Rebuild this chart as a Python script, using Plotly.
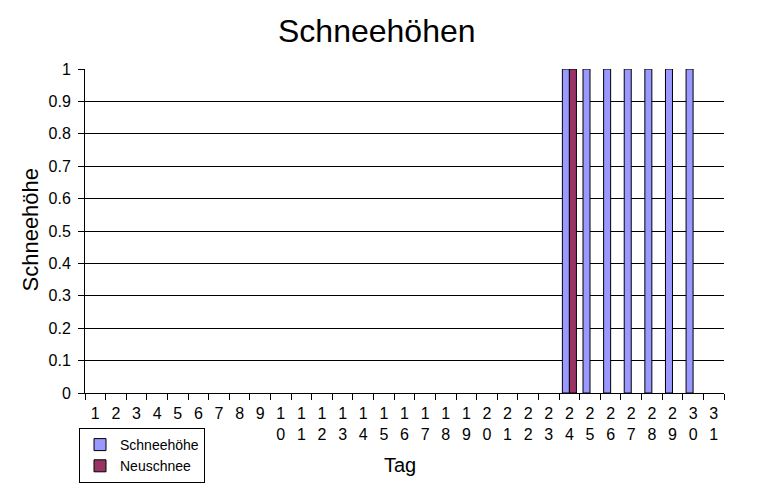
import plotly.graph_objects as go

tage = [str(d) for d in range(1, 32)]
tick_labels = ["1", "2", "3", "4", "5", "6", "7", "8", "9",
               "1<br>0", "1<br>1", "1<br>2", "1<br>3", "1<br>4", "1<br>5", "1<br>6", "1<br>7", "1<br>8", "1<br>9",
               "2<br>0", "2<br>1", "2<br>2", "2<br>3", "2<br>4", "2<br>5", "2<br>6", "2<br>7", "2<br>8", "2<br>9",
               "3<br>0", "3<br>1"]
schneehoehe = [None, None, None, None, None, None, None, None, None, None,
               None, None, None, None, None, None, None, None, None, None,
               None, None, None, 1, 1, 1, 1, 1, 1, 1, None]
neuschnee = [None, None, None, None, None, None, None, None, None, None,
             None, None, None, None, None, None, None, None, None, None,
             None, None, None, 1, None, None, None, None, None, None, None]

font = "Liberation Sans, Arial, sans-serif"

fig = go.Figure()
fig.add_trace(go.Bar(x=tage, y=schneehoehe, name="Schneehöhe",
                     marker=dict(color="#9999FF", line=dict(color="black", width=1))))
fig.add_trace(go.Bar(x=tage, y=neuschnee, name="Neuschnee",
                     marker=dict(color="#993366", line=dict(color="black", width=1))))

PW, PH = 639.0, 325.0
fig.update_layout(
    width=750, height=486,
    margin=dict(l=77, r=34, t=61, b=100),
    paper_bgcolor="white", plot_bgcolor="white",
    barmode="group", bargap=0.32, bargroupgap=0,
    font=dict(family=font, color="black"),
    showlegend=True,
    legend=dict(x=(79 - 85) / PW, y=(394 - 428) / PH, xanchor="left", yanchor="top",
                bordercolor="black", borderwidth=1, bgcolor="white",
                font=dict(size=14), itemwidth=30),
    annotations=[
        dict(text="Schneehöhen", x=(377 - 85) / PW, y=(394 - 31) / PH, xref="paper", yref="paper",
             xanchor="center", yanchor="middle", showarrow=False, font=dict(size=32)),
        dict(text="Tag", x=(400 - 85) / PW, y=(394 - 466) / PH, xref="paper", yref="paper",
             xanchor="center", yanchor="middle", showarrow=False, font=dict(size=20)),
        dict(text="Schneehöhe", x=(31 - 85) / PW, y=(394 - 230) / PH, xref="paper", yref="paper",
             xanchor="center", yanchor="middle", showarrow=False, textangle=-90, font=dict(size=22)),
    ],
)

fig.update_xaxes(type="category", tickmode="array", tickvals=tage, ticktext=tick_labels,
                 ticks="outside", tickson="boundaries", ticklen=6, tickcolor="black",
                 showline=True, linecolor="black", linewidth=1, showgrid=False,
                 tickfont=dict(size=16), tickangle=0, ticklabelstandoff=6)
fig.update_yaxes(range=[0, 1], dtick=0.1, ticks="outside", ticklen=6,
                 tickcolor="black", showline=True, linecolor="black", linewidth=1,
                 showgrid=True, gridcolor="black", gridwidth=1, zeroline=False,
                 tickfont=dict(size=16), ticklabelstandoff=4)

fig.write_html("out.html")
